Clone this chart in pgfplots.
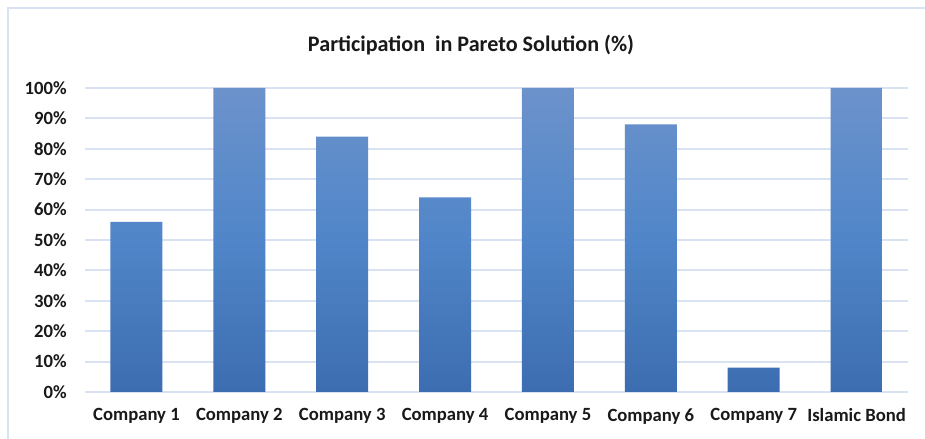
\documentclass[border=0pt]{standalone}
\usepackage{pgfplots}
\pgfplotsset{compat=1.18}
\usepackage{fontspec}
\setmainfont{Carlito}
\definecolor{gridc}{RGB}{217,226,243}
\definecolor{bartop}{RGB}{108,146,203}
\definecolor{barmid}{RGB}{80,134,201}
\definecolor{barbot}{RGB}{60,109,176}
\begin{document}
\begin{tikzpicture}
\fill[white] (0pt,0pt) rectangle (693.75pt,329.25pt);
\draw[gridc, line width=1.2pt] (6pt,0pt) -- (6pt,323.25pt) -- (693.75pt,323.25pt);
\node[font=\bfseries\fontsize{16.6}{19}\selectfont, text=black!90] at (353.25pt,295.5pt) {Participation\ \ in Pareto Solution (\%)};
\begin{axis}[
  at={(63.75pt,35.25pt)}, anchor=south west,
  scale only axis, width=617.25pt, height=228pt,
  ymin=0, ymax=100, xmin=-0.5, xmax=7.5,
  ybar, bar width=39pt,
  axis line style={draw=none},
  ymajorgrids, grid style={gridc, line width=1.5pt},
  major tick style={draw=none},
  ytick={0,10,...,100},
  yticklabels={0\%,10\%,20\%,30\%,40\%,50\%,60\%,70\%,80\%,90\%,100\%},
  xtick={0,...,7},
  xticklabels={Company 1,Company 2,Company 3,Company 4,Company 5,Company 6,Company 7,Islamic Bond},
  ticklabel style={font=\bfseries\fontsize{14}{16}\selectfont, text=black!90},
  yticklabel style={anchor=east, inner sep=0pt, xshift=-13.5pt},
  xticklabel style={anchor=north, inner sep=0pt, yshift=-8pt},
]
\addplot[draw=none, top color=bartop, bottom color=barbot, middle color=barmid] coordinates {
 (0,56) (1,100) (2,84) (3,64) (4,100) (5,88) (6,8) (7,100)
};
\end{axis}
\pgfresetboundingbox
\path[use as bounding box] (0pt,0pt) rectangle (693.75pt,329.25pt);
\end{tikzpicture}
\end{document}
